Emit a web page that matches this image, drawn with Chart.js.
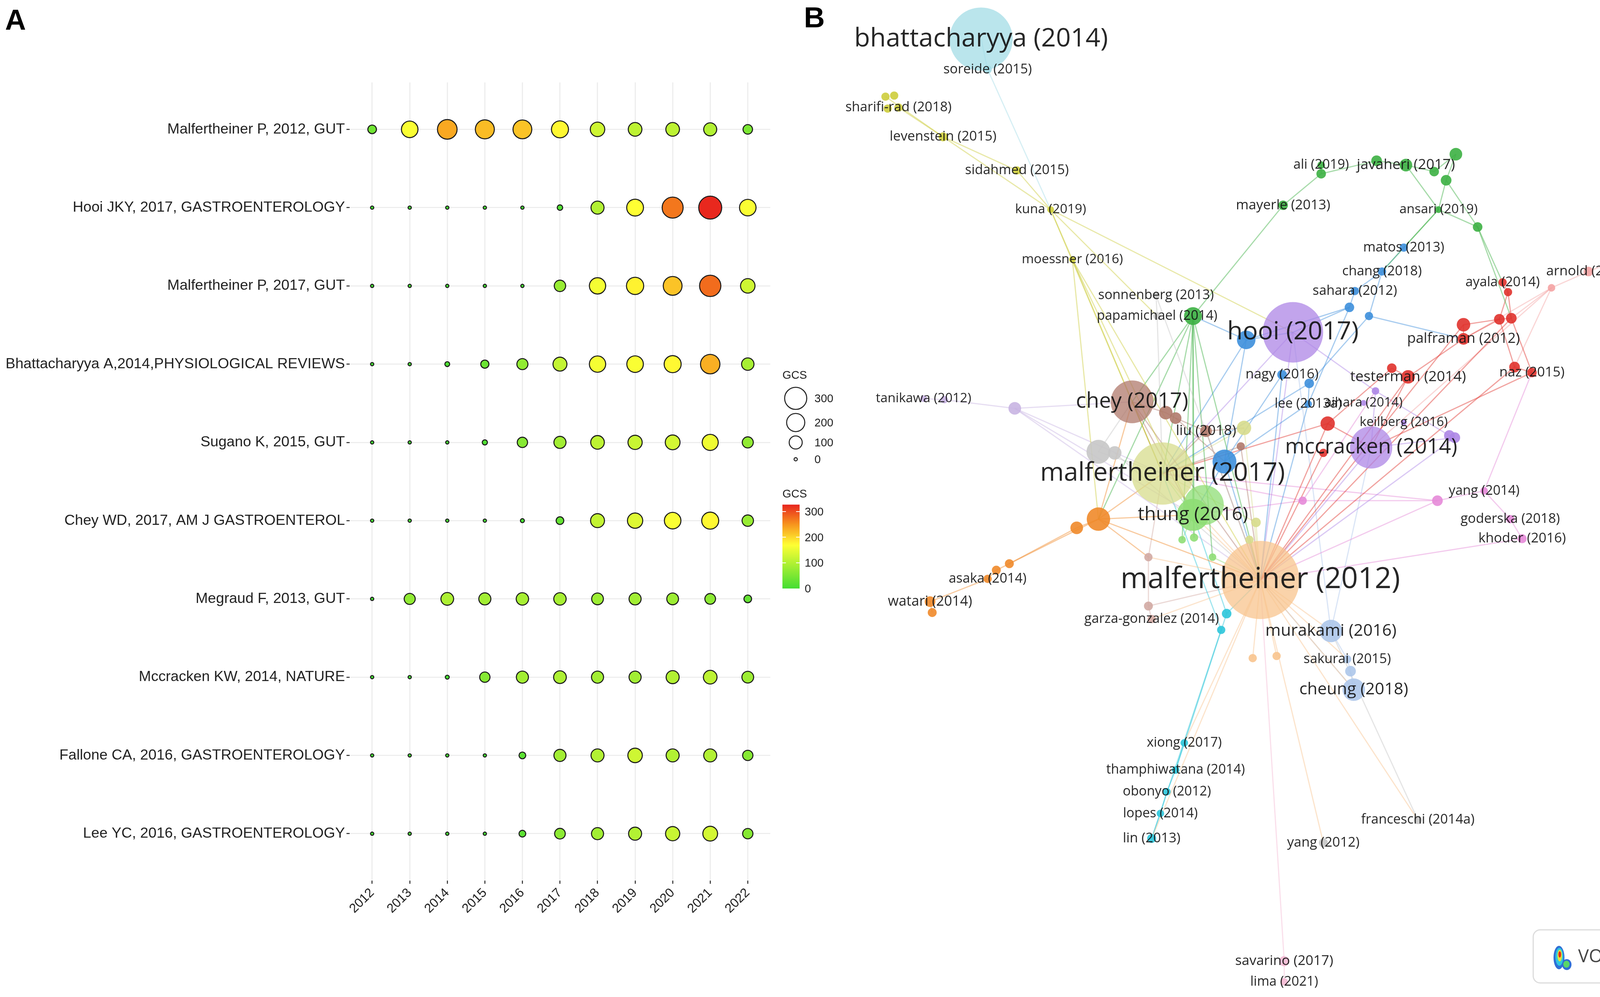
<!DOCTYPE html>
<html>
<head>
<meta charset="utf-8">
<script src="https://cdn.jsdelivr.net/npm/chart.js@4.4.1/dist/chart.umd.min.js"></script>
<style>
  html, body { margin: 0; padding: 0; background: #fff; }
  #wrap { position: relative; width: 4339px; height: 2553px; overflow: hidden; }
  #chartA { position: absolute; left: 0; top: 0; }
  #chartB { position: absolute; left: 2040px; top: 0; }
</style>
</head>
<body>
<div id="wrap">
  <canvas id="chartA" width="2200" height="2553"></canvas>
  <canvas id="chartB" width="2299" height="2553"></canvas>
</div>
<script>
// ---------- panel A data: GCS per paper and year ----------
const years = [2012, 2013, 2014, 2015, 2016, 2017, 2018, 2019, 2020, 2021, 2022];
const papers = [
  'Malfertheiner P, 2012, GUT',
  'Hooi JKY, 2017, GASTROENTEROLOGY',
  'Malfertheiner P, 2017, GUT',
  'Bhattacharyya A,2014,PHYSIOLOGICAL REVIEWS',
  'Sugano K, 2015, GUT',
  'Chey WD, 2017, AM J GASTROENTEROL',
  'Megraud F, 2013, GUT',
  'Mccracken KW, 2014, NATURE',
  'Fallone CA, 2016, GASTROENTEROLOGY',
  'Lee YC, 2016, GASTROENTEROLOGY'
];
const gcsMalfertheiner2012 = [40, 165, 235, 220, 215, 175, 125, 110, 110, 100, 50];
const gcsHooi2017          = [0, 0, 0, 0, 0, 12, 100, 170, 270, 325, 165];
const gcsMalfertheiner2017 = [0, 0, 0, 0, 0, 75, 160, 180, 215, 278, 125];
const gcsBhattacharyya2014 = [0, 0, 8, 35, 70, 115, 160, 165, 175, 230, 90];
const gcsSugano2015        = [0, 0, 0, 10, 60, 85, 110, 120, 130, 155, 70];
const gcsChey2017          = [0, 0, 0, 0, 3, 30, 115, 140, 165, 175, 75];
const gcsMegraud2013       = [0, 70, 95, 85, 90, 90, 80, 85, 80, 65, 30];
const gcsMccracken2014     = [0, 0, 3, 60, 85, 95, 85, 85, 100, 110, 80];
const gcsFallone2016       = [0, 0, 0, 0, 22, 85, 100, 125, 100, 100, 60];
const gcsLee2016           = [0, 0, 0, 0, 22, 65, 85, 100, 120, 130, 60];
const gcsRows = [gcsMalfertheiner2012, gcsHooi2017, gcsMalfertheiner2017, gcsBhattacharyya2014,
  gcsSugano2015, gcsChey2017, gcsMegraud2013, gcsMccracken2014, gcsFallone2016, gcsLee2016];
const sizeBreaks = [300, 200, 100, 0];
const colorBreaks = [300, 200, 100, 0];

// ---------- panel B data: co-citation network (VOSviewer layout coords) ----------
// id, label, x, y, weight, cluster
const nodes = [
  ['bhat', 'bhattacharyya (2014)', 903, 36, 175, 'cyanL'],
  ['soreide', 'soreide (2015)', 909, 64, 3, 'cyanL'],
  ['shar1', '', 815, 89, 3, 'yel'],
  ['shar2', '', 823, 88, 3, 'yel'],
  ['shar3', '', 817, 100, 3, 'yel'],
  ['sharifi', 'sharifi-rad (2018)', 827, 99, 3, 'yel'],
  ['leven', 'levenstein (2015)', 868, 126, 3.5, 'yel'],
  ['sidah', 'sidahmed (2015)', 936, 157, 3, 'yel'],
  ['kuna', 'kuna (2019)', 967, 193, 2, 'yel'],
  ['moess', 'moessner (2016)', 987, 239, 2, 'yel'],
  ['sonnen', 'sonnenberg (2013)', 1064, 272, 2.5, 'grey'],
  ['papam', 'papamichael (2014)', 1065, 291, 2.5, 'grey'],
  ['papamG', '', 1098, 291, 14, 'green'],
  ['mayerle', 'mayerle (2013)', 1181, 189, 4, 'green'],
  ['ali', 'ali (2019)', 1216, 152, 2.5, 'green'],
  ['aliN', '', 1216, 160, 4, 'green'],
  ['jav1', '', 1267, 148, 5, 'green'],
  ['jav2', 'javaheri (2017)', 1294, 152, 7, 'green'],
  ['jav3', '', 1320, 158, 4, 'green'],
  ['jav4', '', 1340, 142, 7, 'green'],
  ['jav5', '', 1331, 166, 5, 'green'],
  ['ansari', 'ansari (2019)', 1324, 193, 2, 'green'],
  ['ansN', '', 1360, 209, 4, 'green'],
  ['matos', 'matos (2013)', 1292, 228, 3, 'blue'],
  ['chang', 'chang (2018)', 1272, 250, 3, 'blue'],
  ['sahara', 'sahara (2012)', 1247, 268, 3, 'blue'],
  ['sah2', '', 1242, 283, 4, 'blue'],
  ['sah3', '', 1260, 291, 3, 'blue'],
  ['hooi', 'hooi (2017)', 1190, 306, 160, 'purple'],
  ['hooiB', '', 1147, 313, 15, 'blue'],
  ['nagy', 'nagy (2016)', 1180, 345, 4, 'blue'],
  ['nagy2', '', 1205, 353, 4, 'blue'],
  ['palfr', 'palframan (2012)', 1347, 312, 6, 'red'],
  ['palf2', '', 1347, 299, 8, 'red'],
  ['ayala', 'ayala (2014)', 1383, 260, 3, 'red'],
  ['ayal2', '', 1388, 269, 3, 'red'],
  ['redA', '', 1380, 294, 5, 'red'],
  ['redB', '', 1391, 293, 5, 'red'],
  ['arnold', 'arnold (2012)', 1462, 250, 4, 'redL'],
  ['arnN', '', 1428, 265, 2.5, 'redL'],
  ['bansil', 'bansil (2013)', 1519, 227, 4, 'redL'],
  ['naz', 'naz (2015)', 1410, 343, 4, 'red'],
  ['naz2', '', 1394, 338, 5, 'red'],
  ['tester', 'testerman (2014)', 1296, 347, 8, 'red'],
  ['test2', '', 1281, 339, 4, 'red'],
  ['aihara', 'aihara (2014)', 1255, 371, 1.5, 'purple'],
  ['aihN', '', 1266, 360, 2.5, 'purple'],
  ['lee', 'lee (2013a)', 1204, 372, 2.5, 'blue'],
  ['keil', 'keilberg (2016)', 1292, 389, 1.5, 'purple'],
  ['keil2', '', 1334, 401, 5, 'purple'],
  ['keil3', '', 1339, 403, 5, 'purple'],
  ['mccr', 'mccracken (2014)', 1262, 412, 78, 'purple'],
  ['redC', '', 1222, 390, 9, 'red'],
  ['redD', '', 1218, 417, 3, 'red'],
  ['tanik', 'tanikawa (2012)', 850, 367, 2, 'purpleL'],
  ['tan2', '', 869, 368, 2.5, 'purpleL'],
  ['tan3', '', 934, 376, 7, 'purpleL'],
  ['chey', 'chey (2017)', 1042, 370, 80, 'brown'],
  ['chey2', '', 1073, 380, 8, 'brown'],
  ['chey3', '', 1082, 385, 6, 'brown'],
  ['liu', 'liu (2018)', 1110, 397, 6, 'brown'],
  ['yelLA', '', 1145, 394, 9, 'yelL'],
  ['brownS', '', 1142, 411, 3, 'brown'],
  ['greyA', '', 1011, 416, 25, 'grey'],
  ['greyB', '', 1026, 417, 8, 'grey'],
  ['malf17', 'malfertheiner (2017)', 1070, 436, 170, 'yelL'],
  ['blueC', '', 1127, 425, 25, 'blue'],
  ['thung', 'thung (2016)', 1098, 474, 45, 'greenL'],
  ['thung2', '', 1108, 465, 70, 'greenL'],
  ['grS1', '', 1088, 497, 2.5, 'greenL'],
  ['grS2', '', 1099, 495, 3, 'greenL'],
  ['grS3', '', 1116, 513, 2.5, 'greenL'],
  ['ylS1', '', 1156, 481, 4, 'yelL'],
  ['ylS2', '', 1150, 497, 3, 'yelL'],
  ['orA', '', 1011, 478, 24, 'orange'],
  ['orB', '', 991, 486, 7, 'orange'],
  ['orC', '', 929, 519, 3.5, 'orange'],
  ['orD', '', 917, 525, 3.5, 'orange'],
  ['asaka', 'asaka (2014)', 909, 533, 3, 'orange'],
  ['watari', 'watari (2014)', 856, 554, 5, 'orange'],
  ['wat2', '', 858, 564, 3.5, 'orange'],
  ['pkA', '', 1199, 461, 3, 'pink'],
  ['pkB', '', 1323, 461, 5, 'pink'],
  ['yang14', 'yang (2014)', 1366, 452, 2.5, 'pink'],
  ['goder', 'goderska (2018)', 1390, 478, 3, 'pink'],
  ['khoder', 'khoder (2016)', 1401, 496, 3.5, 'pink'],
  ['malf12', 'malfertheiner (2012)', 1160, 534, 268, 'orangeL'],
  ['brLA', '', 1057, 513, 3, 'brownL'],
  ['brLB', '', 1057, 558, 3.5, 'brownL'],
  ['garza', 'garza-gonzalez (2014)', 1060, 570, 3, 'brownL'],
  ['cyA', '', 1129, 565, 4, 'cyan'],
  ['cyB', '', 1124, 580, 3, 'cyan'],
  ['murak', 'murakami (2016)', 1225, 581, 22, 'blueL'],
  ['olS1', '', 1153, 606, 3, 'orangeL'],
  ['olS2', '', 1175, 604, 3, 'orangeL'],
  ['sakur', 'sakurai (2015)', 1240, 607, 3, 'blueL'],
  ['sak2', '', 1243, 618, 5, 'blueL'],
  ['cheung', 'cheung (2018)', 1246, 635, 22, 'blueL'],
  ['xiong', 'xiong (2017)', 1090, 684, 2.5, 'cyan'],
  ['thamph', 'thamphiwatana (2014)', 1082, 709, 2.5, 'cyan'],
  ['obonyo', 'obonyo (2012)', 1074, 729, 2.5, 'cyan'],
  ['lopes', 'lopes (2014)', 1068, 749, 2.5, 'cyan'],
  ['lin', 'lin (2013)', 1060, 772, 3.5, 'cyan'],
  ['franc', 'franceschi (2014a)', 1305, 755, 3, 'grey'],
  ['yang12', 'yang (2012)', 1218, 776, 3.5, 'grey'],
  ['savar', 'savarino (2017)', 1182, 885, 4.5, 'pinkL'],
  ['lima', 'lima (2021)', 1182, 904, 2.5, 'pinkL']
];
const links = [
  ['bhat', 'soreide'], ['soreide', 'kuna'],
  ['sharifi', 'leven'], ['shar1', 'leven'], ['leven', 'sidah'], ['leven', 'kuna'], ['sidah', 'kuna'],
  ['kuna', 'moess'], ['kuna', 'hooi'], ['kuna', 'papam'], ['kuna', 'malf17'],
  ['moess', 'malf17'], ['moess', 'thung'], ['moess', 'malf12'], ['moess', 'orA'],
  ['sonnen', 'papam'], ['sonnen', 'malf12'], ['papam', 'malf17'],
  ['mayerle', 'aliN'], ['mayerle', 'papamG'], ['aliN', 'jav1'], ['ali', 'aliN'], ['jav1', 'jav2'],
  ['jav2', 'jav3'], ['jav3', 'jav4'], ['jav4', 'jav5'], ['jav2', 'ansari'], ['jav5', 'ansari'],
  ['jav5', 'ansN'], ['ansari', 'ansN'], ['ansari', 'matos'], ['ansari', 'chang'], ['ansN', 'ayala'], ['ansN', 'redB'],
  ['papamG', 'thung'], ['papamG', 'grS1'], ['papamG', 'grS2'], ['papamG', 'malf12'], ['papamG', 'malf17'],
  ['papamG', 'chey'], ['papamG', 'orA'], ['papamG', 'grS3'],
  ['matos', 'chang'], ['chang', 'sahara'], ['chang', 'sah3'], ['sahara', 'sah2'], ['sah2', 'hooi'],
  ['sah2', 'hooiB'], ['sah3', 'nagy2'], ['sah3', 'palfr'], ['sah2', 'lee'],
  ['hooiB', 'hooi'], ['hooiB', 'papamG'], ['hooiB', 'malf17'], ['hooiB', 'blueC'], ['nagy', 'blueC'],
  ['nagy2', 'lee'], ['lee', 'blueC'], ['lee', 'malf12'], ['nagy', 'malf12'], ['blueC', 'malf12'],
  ['blueC', 'thung'], ['nagy2', 'malf17'],
  ['palf2', 'palfr'], ['palfr', 'redA'], ['palf2', 'redA'], ['redA', 'redB'], ['ayala', 'ayal2'],
  ['ayal2', 'redA'], ['ayal2', 'redB'], ['redB', 'naz'], ['naz', 'naz2'], ['naz2', 'redA'],
  ['palfr', 'tester'], ['tester', 'test2'], ['test2', 'redC'], ['redC', 'malf17'], ['redC', 'malf12'],
  ['redC', 'mccr'], ['tester', 'mccr'], ['tester', 'malf12'], ['naz2', 'malf12'], ['redB', 'malf12'],
  ['palf2', 'malf12'], ['redD', 'malf12'], ['naz', 'mccr'],
  ['bansil', 'arnold'], ['arnold', 'arnN'], ['arnN', 'redB'], ['arnN', 'palfr'], ['arnN', 'naz2'], ['arnN', 'mccr'],
  ['hooi', 'aihN'], ['aihN', 'keil2'], ['keil2', 'keil3'], ['mccr', 'keil3'], ['mccr', 'malf12'],
  ['hooi', 'malf17'], ['hooi', 'malf12'], ['aihN', 'mccr'], ['keil3', 'malf12'],
  ['tanik', 'tan2'], ['tan2', 'tan3'], ['tan3', 'malf17'], ['tan3', 'chey'], ['tan3', 'malf12'], ['tan3', 'thung'],
  ['chey', 'chey2'], ['chey2', 'chey3'], ['chey3', 'liu'], ['liu', 'malf17'], ['chey', 'malf17'],
  ['chey', 'malf12'], ['liu', 'malf12'], ['brownS', 'malf12'], ['chey', 'thung'], ['chey3', 'blueC'],
  ['liu', 'yelLA'], ['brownS', 'malf17'],
  ['greyA', 'malf17'], ['greyB', 'malf12'], ['greyA', 'chey'],
  ['orA', 'malf17'], ['orA', 'thung'], ['orA', 'malf12'], ['orB', 'orA'], ['orB', 'orC'], ['orC', 'orD'],
  ['orD', 'asaka'], ['asaka', 'watari'], ['watari', 'wat2'], ['orA', 'chey'], ['orA', 'brLA'], ['orC', 'orA'],
  ['malf12', 'olS1'], ['malf12', 'olS2'], ['malf12', 'yang12'], ['malf12', 'xiong'], ['malf12', 'thung'],
  ['malf12', 'malf17'], ['malf12', 'murak'], ['malf12', 'cheung'], ['malf12', 'sakur'], ['malf12', 'garza'],
  ['malf12', 'brLA'], ['malf12', 'franc'], ['malf12', 'lin'],
  ['yang14', 'goder'], ['goder', 'khoder'], ['yang14', 'pkB'], ['pkB', 'pkA'], ['pkA', 'thung'],
  ['pkA', 'malf17'], ['pkB', 'malf12'], ['khoder', 'malf12'], ['pkA', 'aihN'], ['yang14', 'naz'], ['pkB', 'malf17'],
  ['xiong', 'thamph'], ['thamph', 'obonyo'], ['obonyo', 'lopes'], ['lopes', 'lin'], ['lin', 'cyB'],
  ['thamph', 'cyA'], ['cyA', 'malf12'], ['cyB', 'malf17'], ['cyA', 'thung'],
  ['thung', 'malf17'], ['grS1', 'thung'], ['grS2', 'thung'], ['grS3', 'malf12'],
  ['murak', 'sakur'], ['sakur', 'sak2'], ['sak2', 'cheung'], ['murak', 'mccr'], ['cheung', 'malf12'], ['murak', 'hooi'],
  ['savar', 'lima'], ['savar', 'malf12'],
  ['malf17', 'yelLA'], ['yelLA', 'malf12'], ['ylS1', 'malf12'], ['ylS2', 'malf12'], ['ylS1', 'malf17'],
  ['brLA', 'malf17'], ['brLB', 'garza'], ['brLB', 'malf12'], ['brLA', 'brLB'],
  ['franc', 'murak']
];

// ---------- styling ----------
const S = 4339 / 1560;          // reference px -> page px
const FONT_A = '"Liberation Sans", Arial, sans-serif';
const FONT_B = '"Open Sans", "Noto Sans", sans-serif';
Chart.defaults.font.family = FONT_A;

function hexToRgb(h) {
  return [parseInt(h.slice(1, 3), 16), parseInt(h.slice(3, 5), 16), parseInt(h.slice(5, 7), 16)];
}
function rgba(h, a) {
  const c = hexToRgb(h);
  return `rgba(${c[0]},${c[1]},${c[2]},${a})`;
}
const gcsStops = [[0, '#44dd33'], [170, '#ffff33'], [250, '#f7941d'], [327, '#e8251e']]
  .map(([v, c]) => [v, hexToRgb(c)]);
function gcsColor(v) {
  v = Math.max(0, Math.min(327, v));
  for (let i = 1; i < gcsStops.length; i++) {
    const [v0, c0] = gcsStops[i - 1];
    const [v1, c1] = gcsStops[i];
    if (v <= v1) {
      const t = (v - v0) / (v1 - v0);
      return 'rgb(' + c0.map((c, k) => Math.round(c + t * (c1[k] - c))).join(',') + ')';
    }
  }
}
const bubbleR = v => S * Math.sqrt(2.25 + 0.3375 * v);

const clusterColors = {
  red: '#e0322c', redL: '#f4a3a3', green: '#3cb043', greenL: '#8fde76', blue: '#3d8fdb',
  blueL: '#adc6ea', purple: '#ad86e6', purpleL: '#c8b4e2', yel: '#cdcd3c', yelL: '#d7dc8c',
  orange: '#f08a2a', orangeL: '#f8c48e', brown: '#b07a6c', brownL: '#d2aaa3', pink: '#e58ad8',
  pinkL: '#f4b9d3', cyan: '#2cc5da', cyanL: '#a3dce6', grey: '#c6c6c6'
};
const nodeR = w => S * Math.max(2.5, 2.2 * Math.sqrt(w));
const labelSize = w => S * (10.6 + 1.0 * Math.sqrt(w));

// ---------- panel A ----------
const pointsA = [];
gcsRows.forEach((row, i) => row.forEach((v, j) => pointsA.push({ x: years[j], y: i, r: bubbleR(v), v })));

const legendA = {
  id: 'legendA',
  afterDraw(chart) {
    const ctx = chart.ctx;
    ctx.save();
    // panel letter
    ctx.fillStyle = '#000';
    ctx.font = `bold 74px ${FONT_A}`;
    ctx.textBaseline = 'alphabetic';
    ctx.fillText('A', 13, 76);

    ctx.font = `29px ${FONT_A}`;
    ctx.fillStyle = '#222';
    ctx.textBaseline = 'middle';
    ctx.fillText('GCS', 2003, 962);
    const cys = [1020, 1082, 1133, 1176];
    sizeBreaks.forEach((v, i) => {
      ctx.beginPath();
      ctx.arc(2037, cys[i], bubbleR(v), 0, Math.PI * 2);
      ctx.lineWidth = 2.6;
      ctx.strokeStyle = '#222';
      ctx.stroke();
      ctx.fillText(String(v), 2085, cys[i] + 2);
    });

    // colour bar
    ctx.fillText('GCS', 2003, 1266);
    const barX = 2003, barW = 44, y0 = 1507, k = 0.657;
    const top = y0 - 327 * k;
    const grad = ctx.createLinearGradient(0, y0, 0, top);
    for (let v = 0; v <= 327; v += 8) grad.addColorStop(v / 327, gcsColor(v));
    grad.addColorStop(1, gcsColor(327));
    ctx.fillStyle = grad;
    ctx.fillRect(barX, top, barW, y0 - top);
    ctx.strokeStyle = '#fff';
    ctx.lineWidth = 2;
    colorBreaks.forEach(v => {
      const y = y0 - v * k;
      if (v > 0) {
        ctx.beginPath();
        ctx.moveTo(barX, y); ctx.lineTo(barX + 9, y);
        ctx.moveTo(barX + barW - 9, y); ctx.lineTo(barX + barW, y);
        ctx.stroke();
      }
      ctx.fillStyle = '#222';
      ctx.fillText(String(v), 2060, y + 2);
    });
    ctx.restore();
  }
};

new Chart(document.getElementById('chartA'), {
  type: 'bubble',
  data: {
    datasets: [{
      data: pointsA,
      backgroundColor: ctx => ctx.raw ? gcsColor(ctx.raw.v) : '#fff',
      borderColor: '#1a1a1a',
      borderWidth: 2.6
    }]
  },
  options: {
    responsive: false,
    animation: false,
    devicePixelRatio: 1,
    layout: { autoPadding: false, padding: { top: 211, right: 228, left: 0, bottom: 0 } },
    plugins: { legend: { display: false }, tooltip: { enabled: false } },
    scales: {
      x: {
        type: 'linear', min: 2011.4, max: 2022.6,
        afterBuildTicks: s => { s.ticks = years.map(v => ({ value: v })); },
        afterFit: s => { s.height = 298; },
        border: { display: false },
        grid: { color: '#ebebeb', lineWidth: 2.6, tickColor: '#333', tickLength: 8, tickWidth: 2.6 },
        ticks: {
          autoSkip: false, minRotation: 45, maxRotation: 45, padding: 4,
          color: '#222', font: { size: 33 },
          callback: v => String(v)
        }
      },
      y: {
        type: 'linear', min: -0.6, max: 9.6, reverse: true,
        afterBuildTicks: s => { s.ticks = papers.map((_, i) => ({ value: i })); },
        afterFit: s => { s.width = 895; },
        border: { display: false },
        grid: { color: '#ebebeb', lineWidth: 2.6, tickColor: '#333', tickLength: 8, tickWidth: 2.6 },
        ticks: {
          padding: 4, color: '#222', font: { size: 37.6 },
          callback: v => papers[v]
        }
      }
    }
  },
  plugins: [legendA]
});

// ---------- panel B ----------
const nodeById = {};
nodes.forEach(n => { nodeById[n[0]] = { id: n[0], label: n[1], x: n[2], y: n[3], w: n[4], cl: n[5] }; });
const nodeList = Object.values(nodeById).sort((a, b) => b.w - a.w);

const edgeSets = links.map(([a, b]) => {
  const p = nodeById[a], q = nodeById[b];
  return {
    type: 'line',
    data: [{ x: p.x, y: p.y }, { x: q.x, y: q.y }],
    borderColor: rgba(clusterColors[p.cl], 0.45),
    borderWidth: 3,
    pointRadius: 0,
    fill: false,
    tension: 0,
    order: 2
  };
});
const nodeSet = {
  type: 'bubble',
  data: nodeList.map(n => ({ x: n.x, y: n.y, r: nodeR(n.w) })),
  backgroundColor: nodeList.map(n => rgba(clusterColors[n.cl], n.w > 50 ? 0.75 : 0.9)),
  borderWidth: 0,
  order: 0
};

const labelsB = {
  id: 'labelsB',
  afterDatasetsDraw(chart) {
    const { ctx, scales: { x, y } } = chart;
    ctx.save();
    ctx.textAlign = 'center';
    ctx.textBaseline = 'middle';
    ctx.fillStyle = 'rgba(20,20,20,0.92)';
    nodeList.slice().reverse().forEach(n => {
      if (!n.label) return;
      ctx.font = `${labelSize(n.w).toFixed(1)}px ${FONT_B}`;
      ctx.fillText(n.label, x.getPixelForValue(n.x), y.getPixelForValue(n.y));
    });
    ctx.restore();
  },
  afterDraw(chart) {
    const ctx = chart.ctx;
    ctx.save();
    // panel letter
    ctx.fillStyle = '#000';
    ctx.font = `bold 74px ${FONT_A}`;
    ctx.textAlign = 'left';
    ctx.textBaseline = 'alphabetic';
    ctx.fillText('B', 18, 70);

    // VOSviewer badge
    const bx = 1885, by = 2381, bw = 383, bh = 136;
    ctx.beginPath();
    ctx.roundRect(bx, by, bw, bh, 18);
    ctx.fillStyle = '#fff';
    ctx.fill();
    ctx.lineWidth = 3;
    ctx.strokeStyle = '#dcdcdc';
    ctx.stroke();
    const ix = 1957, iy = 2452;
    const blob = (x, y, rx, ry, c) => { ctx.beginPath(); ctx.ellipse(x, y, rx, ry, 0, 0, Math.PI * 2); ctx.fillStyle = c; ctx.fill(); };
    blob(ix - 6, iy, 14, 30, '#2f6fd6');
    blob(ix + 14, iy + 18, 12, 14, '#2f6fd6');
    blob(ix - 5, iy - 2, 10, 23, '#2fc7e0');
    blob(ix + 13, iy + 17, 8, 9, '#59d66a');
    blob(ix - 4, iy - 5, 6, 15, '#e5e33a');
    blob(ix - 4, iy - 8, 3.5, 8, '#e32a1f');
    ctx.fillStyle = '#444';
    ctx.font = `46px ${FONT_B}`;
    ctx.textBaseline = 'middle';
    ctx.fillText('VOSviewer', 2000, 2451);
    ctx.restore();
  }
};

new Chart(document.getElementById('chartB'), {
  type: 'bubble',
  data: { datasets: [nodeSet, ...edgeSets] },
  options: {
    responsive: false,
    animation: false,
    devicePixelRatio: 1,
    layout: { autoPadding: false, padding: 0 },
    plugins: { legend: { display: false }, tooltip: { enabled: false } },
    scales: {
      x: { type: 'linear', display: false, min: 2040 / S, max: 1560 },
      y: { type: 'linear', display: false, min: 0, max: 918, reverse: true }
    }
  },
  plugins: [labelsB]
});
</script>
</body>
</html>
